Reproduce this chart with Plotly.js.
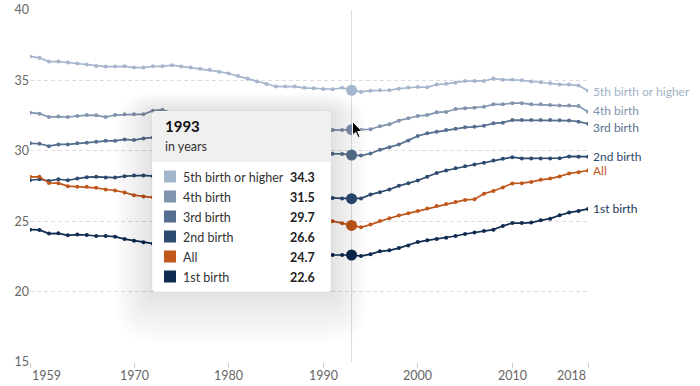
<!DOCTYPE html>
<html>
<head>
<meta charset="utf-8">
<script src="https://cdn.plot.ly/plotly-3.0.1.min.js"></script>
<style>
  html, body { margin: 0; padding: 0; background: #fff; }
  #chart { width: 700px; height: 386px; }
</style>
</head>
<body>
<div id="chart"></div>
<script>
// ---------- DATA ----------
const years = [1959,1960,1961,1962,1963,1964,1965,1966,1967,1968,1969,1970,1971,1972,1973,1974,1975,1976,1977,1978,
  1979,1980,1981,1982,1983,1984,1985,1986,1987,1988,1989,1990,1991,1992,1993,1994,1995,1996,1997,1998,
  1999,2000,2001,2002,2003,2004,2005,2006,2007,2008,2009,2010,2011,2012,2013,2014,2015,2016,2017,2018];

const fifthOrHigher = [36.70,36.60,36.34,36.34,36.27,36.20,36.13,36.03,35.98,35.98,36.00,35.91,35.91,36.00,36.00,36.08,35.99,35.92,35.83,35.75,
  35.62,35.49,35.31,35.14,34.93,34.74,34.57,34.56,34.56,34.47,34.44,34.39,34.37,34.47,34.30,34.18,34.27,34.30,34.30,34.41,
  34.49,34.53,34.51,34.71,34.76,34.83,34.95,34.95,34.96,35.13,35.05,35.04,35.01,34.92,34.87,34.80,34.70,34.70,34.63,34.27];

const fourth = [32.71,32.64,32.40,32.43,32.40,32.47,32.54,32.52,32.40,32.54,32.59,32.59,32.59,32.85,32.90,32.70,32.65,32.60,32.50,32.40,
  32.30,32.20,32.05,31.90,31.75,31.65,31.55,31.50,31.50,31.45,31.45,31.45,31.47,31.47,31.50,31.50,31.53,31.74,31.89,32.14,
  32.31,32.47,32.54,32.73,32.76,32.97,33.02,33.06,33.13,33.30,33.30,33.38,33.38,33.30,33.30,33.25,33.21,33.21,33.18,32.78];

const third = [30.53,30.50,30.33,30.45,30.45,30.53,30.57,30.64,30.71,30.71,30.81,30.76,30.88,30.95,31.00,31.00,30.95,30.90,30.85,30.75,
  30.65,30.55,30.45,30.30,30.20,30.10,30.00,29.95,29.90,29.85,29.80,29.80,29.79,29.78,29.70,29.66,29.81,30.07,30.26,30.45,
  30.74,31.05,31.24,31.35,31.47,31.57,31.67,31.70,31.78,31.95,32.00,32.18,32.18,32.18,32.18,32.18,32.17,32.15,32.07,31.92];

const second = [27.91,27.98,27.86,27.98,27.91,28.03,28.13,28.15,28.10,28.10,28.20,28.25,28.25,28.20,28.15,28.05,27.95,27.80,27.70,27.60,
  27.50,27.40,27.30,27.20,27.10,27.00,26.90,26.85,26.80,26.75,26.70,26.70,26.65,26.62,26.60,26.62,26.89,27.06,27.25,27.51,
  27.70,27.89,28.16,28.42,28.60,28.76,28.91,29.03,29.15,29.31,29.43,29.55,29.46,29.46,29.46,29.46,29.47,29.60,29.58,29.58];

const all = [28.15,28.15,27.72,27.70,27.49,27.45,27.45,27.37,27.25,27.18,27.04,26.85,26.76,26.70,26.60,26.50,26.40,26.30,26.20,26.10,
  26.00,25.90,25.80,25.70,25.60,25.50,25.40,25.35,25.30,25.25,25.20,25.10,25.00,24.85,24.70,24.57,24.76,25.01,25.21,25.40,
  25.56,25.73,25.90,26.08,26.23,26.37,26.51,26.56,26.95,27.15,27.39,27.68,27.70,27.79,27.94,28.03,28.18,28.39,28.48,28.60];

const first = [24.40,24.38,24.12,24.14,24.00,24.05,24.02,23.95,23.95,23.90,23.73,23.62,23.50,23.40,23.30,23.20,23.10,23.00,22.90,22.80,
  22.75,22.70,22.60,22.55,22.50,22.50,22.50,22.50,22.55,22.55,22.60,22.60,22.60,22.60,22.60,22.52,22.66,22.86,22.93,23.09,
  23.28,23.52,23.64,23.73,23.83,23.95,24.09,24.19,24.30,24.40,24.66,24.87,24.87,24.90,25.06,25.18,25.42,25.61,25.73,25.87];

const seriesNames = ['5th birth or higher','4th birth','3rd birth','2nd birth','All','1st birth'];
const seriesValues = [fifthOrHigher, fourth, third, second, all, first];
const xTickVals = [1959,1970,1980,1990,2000,2010,2018];
const yTickVals = [15,20,25,30,35,40];
const hoverYear = 1993;
const tooltipTitle = '1993';
const tooltipSubtitle = 'in years';

// ---------- STYLE ----------
const colors = ['#a4b6cc','#8094ae','#566e8f','#2d4a6f','#c0571b','#0f2b50'];
const labelColors = ['#a0b1c6','#7f93ac','#566e8f','#2d4a6f','#c0571b','#1a3457'];
const labelShift = [-1,1,-4,0,0,0];
const FONT = 'Lato, "Open Sans", sans-serif';

const W = 700, H = 386, ML = 30, MR = 112, MT = 10, MB = 24;
const PW = W - ML - MR, PH = H - MT - MB;
const px = p => (p - ML) / PW;          // pixel x -> paper x
const py = p => (H - MB - p) / PH;      // pixel y -> paper y

function roundRectPath(x0, y0, x1, y1, r, topOnly) {
  const X = px, Y = py;
  const rb = topOnly ? 0 : r;
  return 'M' + X(x0 + r) + ',' + Y(y0) +
    ' L' + X(x1 - r) + ',' + Y(y0) +
    ' Q' + X(x1) + ',' + Y(y0) + ' ' + X(x1) + ',' + Y(y0 + r) +
    ' L' + X(x1) + ',' + Y(y1 - rb) +
    (rb ? ' Q' + X(x1) + ',' + Y(y1) + ' ' + X(x1 - rb) + ',' + Y(y1) : '') +
    ' L' + X(x0 + rb) + ',' + Y(y1) +
    (rb ? ' Q' + X(x0) + ',' + Y(y1) + ' ' + X(x0) + ',' + Y(y1 - rb) : '') +
    ' L' + X(x0) + ',' + Y(y0 + r) +
    ' Q' + X(x0) + ',' + Y(y0) + ' ' + X(x0 + r) + ',' + Y(y0) + ' Z';
}

// ---------- TRACES ----------
const hi = years.indexOf(hoverYear);
const traces = [];
seriesValues.forEach((vals, i) => {
  traces.push({
    x: years, y: vals, type: 'scatter', mode: 'lines+markers', name: seriesNames[i],
    line: { color: colors[i], width: 1.7 },
    marker: { color: colors[i], size: 4 },
    hoverinfo: 'skip', showlegend: false
  });
});
seriesValues.forEach((vals, i) => {
  traces.push({
    x: [years[hi]], y: [vals[hi]], type: 'scatter', mode: 'markers',
    marker: { color: colors[i], size: 11 },
    hoverinfo: 'skip', showlegend: false
  });
});

// ---------- TOOLTIP (shapes + annotations) ----------
const tb = { x0: 152, y0: 111, x1: 331, y1: 292, header: 162 };
const shapes = [];
shapes.push({
  type: 'line', xref: 'x', yref: 'paper', x0: hoverYear, x1: hoverYear, y0: 0, y1: 1,
  line: { color: '#dcdcdc', width: 1 }, layer: 'below'
});
for (let i = 14; i >= 1; i--) {
  const e = i * 2.6;
  shapes.push({
    type: 'path', xref: 'paper', yref: 'paper', layer: 'above',
    path: roundRectPath(tb.x0 - e, tb.y0 - e * 0.5, tb.x1 + e, tb.y1 + e * 1.4, 4 + e),
    fillcolor: 'rgba(0,0,0,0.008)', line: { width: 0 }
  });
}
shapes.push({
  type: 'path', xref: 'paper', yref: 'paper', layer: 'above',
  path: roundRectPath(tb.x0, tb.y0, tb.x1, tb.y1, 4),
  fillcolor: '#ffffff', line: { color: 'rgba(0,0,0,0.05)', width: 1 }
});
shapes.push({
  type: 'path', xref: 'paper', yref: 'paper', layer: 'above',
  path: roundRectPath(tb.x0 + 0.5, tb.y0 + 0.5, tb.x1 - 0.5, tb.header, 4, true),
  fillcolor: '#f0f0f0', line: { width: 0 }
});

const annotations = [];
annotations.push({
  xref: 'paper', yref: 'paper', x: px(163), y: py(126.5), xanchor: 'left', yanchor: 'middle',
  text: '<b>' + tooltipTitle + '</b>', showarrow: false, font: { family: FONT, size: 15, color: '#111' }
});
annotations.push({
  xref: 'paper', yref: 'paper', x: px(163), y: py(146.5), xanchor: 'left', yanchor: 'middle',
  text: tooltipSubtitle, showarrow: false, font: { family: FONT, size: 12.5, color: '#333' }
});
seriesNames.forEach((name, i) => {
  const cy = 176.5 + i * 20;
  shapes.push({
    type: 'rect', xref: 'paper', yref: 'paper', layer: 'above',
    x0: px(164), x1: px(176), y0: py(cy - 6), y1: py(cy + 6),
    fillcolor: colors[i], line: { width: 0 }
  });
  annotations.push({
    xref: 'paper', yref: 'paper', x: px(181), y: py(cy + 0.5), xanchor: 'left', yanchor: 'middle',
    text: name, showarrow: false, font: { family: FONT, size: 12.5, color: '#333' }
  });
  annotations.push({
    xref: 'paper', yref: 'paper', x: px(317), y: py(cy + 0.5), xanchor: 'right', yanchor: 'middle',
    text: '<b>' + seriesValues[i][hi].toFixed(1) + '</b>', showarrow: false,
    font: { family: FONT, size: 12.5, color: '#222' }
  });
});

// mouse cursor
(function () {
  const ox = 352.5, oy = 121.5, s = 0.8;
  const pts = [[0,0],[0,17],[4,13.5],[7,20],[9.5,19],[6.5,12.5],[12,12.5]];
  let d = '';
  pts.forEach((p, k) => { d += (k ? ' L' : 'M') + px(ox + p[0] * s) + ',' + py(oy + p[1] * s); });
  d += ' Z';
  shapes.push({ type: 'path', xref: 'paper', yref: 'paper', layer: 'above', path: d,
    fillcolor: '#000', line: { color: '#fff', width: 1 } });
})();

// end labels
seriesNames.forEach((name, i) => {
  const v = seriesValues[i];
  annotations.push({
    xref: 'x', yref: 'y', x: years[years.length - 1], y: v[v.length - 1],
    xanchor: 'left', yanchor: 'middle', xshift: 3, yshift: labelShift[i],
    text: name, showarrow: false, font: { family: FONT, size: 12, color: labelColors[i] }
  });
});

// x tick labels (edge labels aligned inward)
xTickVals.forEach((t, k) => {
  const anchor = k === 0 ? 'left' : (k === xTickVals.length - 1 ? 'right' : 'center');
  annotations.push({ xref: 'x', yref: 'paper', x: t, y: 0, yshift: -13, xanchor: anchor, yanchor: 'middle',
    text: String(t), showarrow: false, font: { family: FONT, size: 12.5, color: '#666' } });
});

const layout = {
  width: W, height: H,
  margin: { l: ML, r: MR, t: MT, b: MB, pad: 0 },
  paper_bgcolor: '#fff', plot_bgcolor: '#fff',
  font: { family: FONT, size: 12, color: '#666' },
  showlegend: false,
  xaxis: {
    range: [1959, 2018], tickvals: xTickVals, showticklabels: false,
    ticks: 'outside', ticklen: 5, tickcolor: '#cccccc', tickwidth: 1,
    showgrid: false, zeroline: false, showline: false
  },
  yaxis: {
    range: [15, 40], tickvals: yTickVals,
    showgrid: true, gridcolor: '#dddddd', gridwidth: 1, griddash: '4px,3px',
    zeroline: false, showline: false, ticks: '',
    tickfont: { family: FONT, size: 12.5, color: '#666' }
  },
  shapes: shapes,
  annotations: annotations
};

Plotly.newPlot('chart', traces, layout, { displayModeBar: false, staticPlot: true });
</script>
</body>
</html>
